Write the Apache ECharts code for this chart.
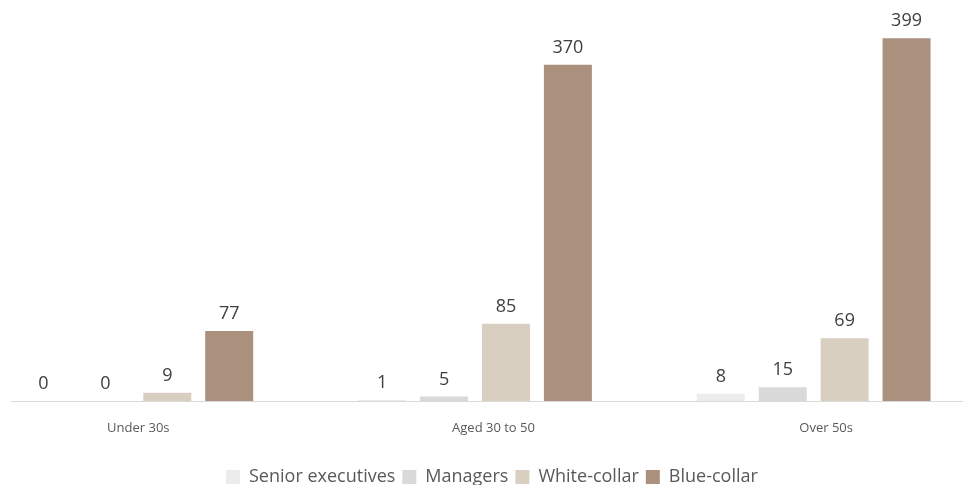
<!DOCTYPE html>
<html><head><meta charset="utf-8">
<script src="https://cdn.jsdelivr.net/npm/echarts@6/dist/echarts.min.js"></script>
<style>html,body{margin:0;padding:0;background:#fff;overflow:hidden}#c{position:absolute;left:-33px;top:0;width:1016px;height:485px}</style>
</head><body><div id="c"></div>
<script>
var categories = ['Under 30s', 'Aged 30 to 50', 'Over 50s'];
var seriesNames = ['Senior executives', 'Managers', 'White-collar', 'Blue-collar'];
var seniorExecutives = [0, 1, 8];
var managers = [0, 5, 15];
var whiteCollar = [9, 85, 69];
var blueCollar = [77, 370, 399];
var colors = ['#ECECEC', '#D9D9D9', '#D9CFC1', '#AB907E'];
var values = [seniorExecutives, managers, whiteCollar, blueCollar];

var chart = echarts.init(document.getElementById('c'));
var labelShift = {'Under 30s': 'a', 'Aged 30 to 50': 'b', 'Over 50s': 'c'};
chart.setOption({
  animation: false,
  textStyle: {fontFamily: '"Open Sans", sans-serif'},
  grid: {left: 0, right: 0, top: 1, bottom: 84, containLabel: false},
  legend: {
    bottom: -6, left: 254, itemWidth: 14, itemHeight: 14, itemGap: 7,
    icon: 'rect',
    textStyle: {fontSize: 18, color: '#595959', padding: [0, 0, 0, 4], fontFamily: '"Open Sans", sans-serif'},
    data: seriesNames
  },
  xAxis: {
    type: 'category', data: categories,
    axisLine: {show: false}, axisTick: {show: false},
    axisLabel: {
      margin: 21, color: '#595959', fontSize: 13,
      formatter: function (v) { return '{' + labelShift[v] + '|' + v + '}'; },
      rich: {
        a: {fontSize: 13, color: '#595959', padding: [0, 0, 0, 4]},
        b: {fontSize: 13, color: '#595959', padding: [0, 0, 0, 37]},
        c: {fontSize: 13, color: '#595959', padding: [0, 0, 0, 25]}
      }
    }
  },
  yAxis: {type: 'value', min: 0, max: 440, show: false, splitLine: {show: false}},
  graphic: [{
    type: 'line', shape: {x1: 44, y1: 401.5, x2: 1016, y2: 401.5},
    style: {stroke: '#D9D9D9', lineWidth: 1}, z: 10
  }],
  series: seriesNames.map(function (n, i) {
    return {
      name: n, type: 'bar', data: values[i], barWidth: 48, barGap: '29%',
      itemStyle: {color: colors[i]},
      label: {show: true, position: 'top', distance: 8, fontSize: 18, color: '#404040'}
    };
  })
});
</script></body></html>
